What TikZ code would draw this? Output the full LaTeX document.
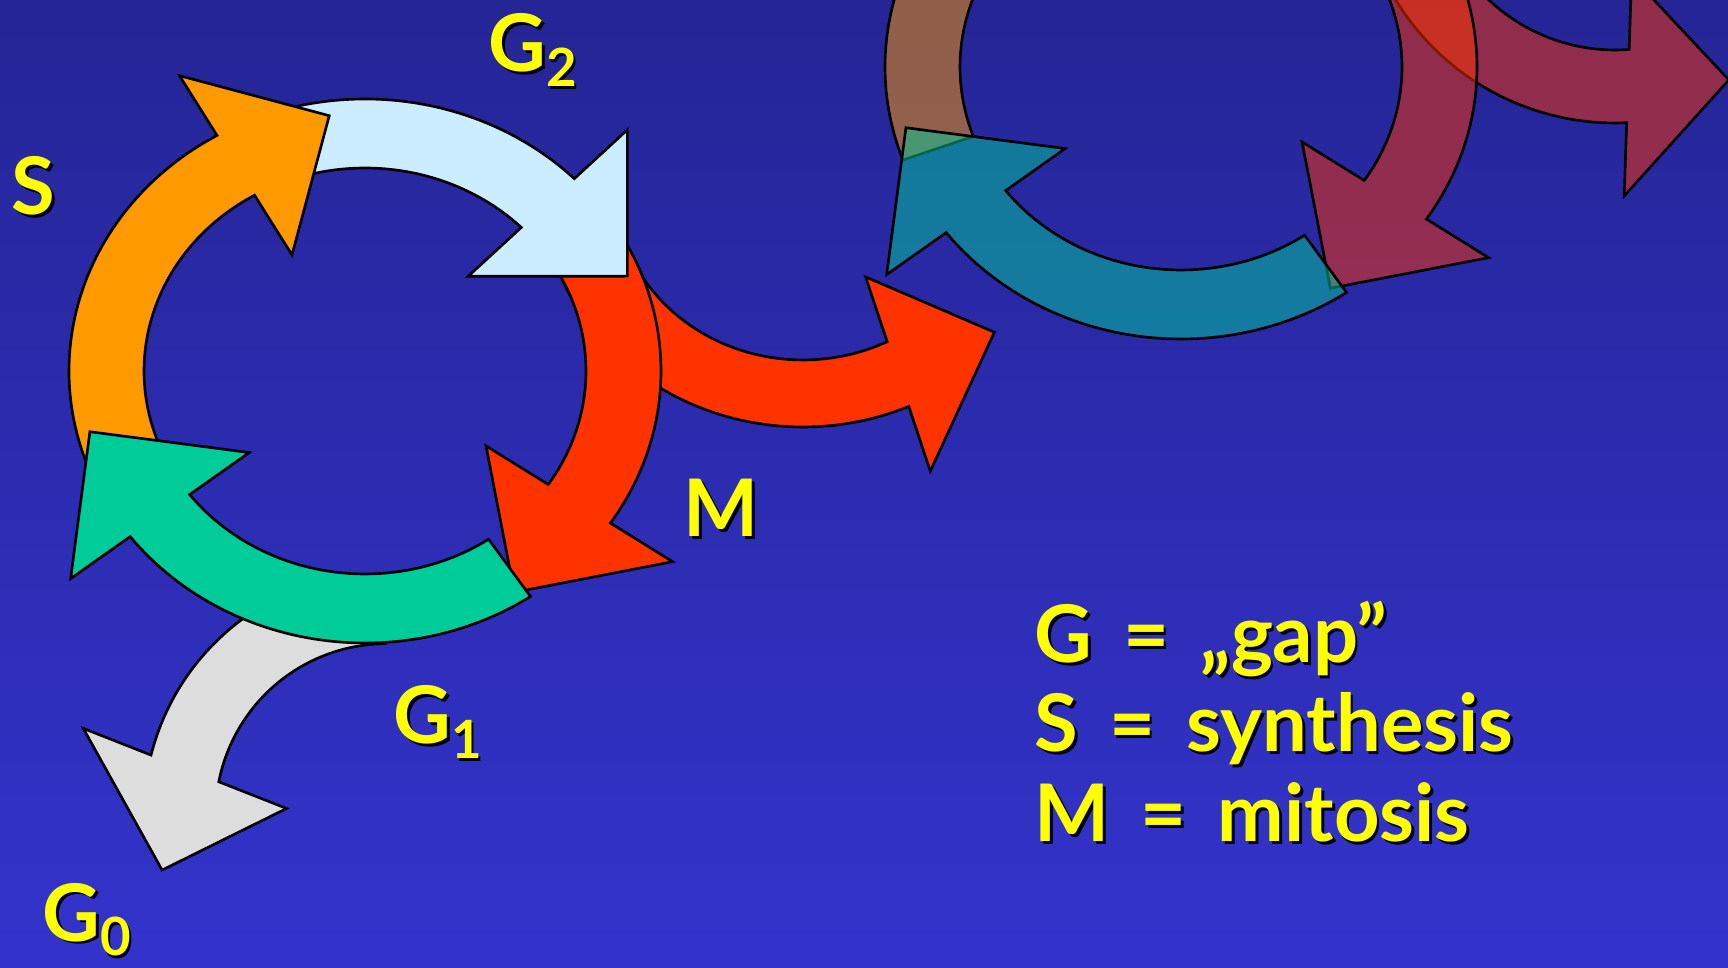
\documentclass[tikz,border=0pt]{standalone}
\usepackage{fontspec}
\newfontfamily\labfont{Lato}
\definecolor{bgtop}{RGB}{37,37,150}
\definecolor{bgbot}{RGB}{51,51,204}
\definecolor{cOrange}{RGB}{255,153,0}
\definecolor{cLightBlue}{RGB}{204,236,255}
\definecolor{cRed}{RGB}{255,51,0}
\definecolor{cGreen}{RGB}{0,204,153}
\definecolor{cGrey}{RGB}{221,221,221}
\definecolor{cYellow}{RGB}{255,255,0}
\pgfkeys{/aa/.is family}
\pgfkeys{/aa,
 c/.code args={#1,#2}{\def\aaCx{#1}\def\aaCy{#2}},
 ro/.code args={#1,#2}{\def\aaRxo{#1}\def\aaRyo{#2}},
 ri/.code args={#1,#2}{\def\aaRxi{#1}\def\aaRyi{#2}},
 from/.code={\def\aaSo{#1}\def\aaSi{#1}},
 to/.code={\def\aaEo{#1}\def\aaEi{#1}},
 ofrom/.code={\def\aaSo{#1}},
 ifrom/.code={\def\aaSi{#1}},
 oto/.code={\def\aaEo{#1}},
 ito/.code={\def\aaEi{#1}},
 head/.code={\def\aaHf{#1}}}
% curved band arrow between an outer and an inner ellipse, with a triangular head
\newcommand{\ArcArrow}[2]{%
 \begingroup
 \pgfkeys{/aa,head=1.5,#1}%
 \pgfmathsetmacro\aaSg{((\aaEo)>(\aaSo))?1:-1}%
 \pgfmathsetmacro\aaEm{((\aaEo)+(\aaEi))/2}%
 \pgfmathsetmacro\aaTx{-((\aaRxo)+(\aaRxi))/200*sin(\aaEm)}%
 \pgfmathsetmacro\aaTy{((\aaRyo)+(\aaRyi))/200*cos(\aaEm)}%
 \pgfmathsetmacro\aaTl{veclen(\aaTx,\aaTy)}%
 \pgfmathsetmacro\aaNox{(\aaCx)+(\aaRxo)*cos(\aaEo)}%
 \pgfmathsetmacro\aaNoy{(\aaCy)+(\aaRyo)*sin(\aaEo)}%
 \pgfmathsetmacro\aaNix{(\aaCx)+(\aaRxi)*cos(\aaEi)}%
 \pgfmathsetmacro\aaNiy{(\aaCy)+(\aaRyi)*sin(\aaEi)}%
 \pgfmathsetmacro\aaBw{100*veclen(((\aaNox)-(\aaNix))/100,((\aaNoy)-(\aaNiy))/100)}%
 \pgfmathsetmacro\aaHl{(\aaHf)*(\aaBw)}%
 \coordinate (bo) at ({2*(\aaNox)-(\aaNix)},{2*(\aaNoy)-(\aaNiy)});
 \coordinate (bi) at ({2*(\aaNix)-(\aaNox)},{2*(\aaNiy)-(\aaNoy)});
 \coordinate (tp) at ({((\aaNox)+(\aaNix))/2+(\aaSg)*(\aaHl)*(\aaTx)/(\aaTl)},{((\aaNoy)+(\aaNiy))/2+(\aaSg)*(\aaHl)*(\aaTy)/(\aaTl)});
 \draw[arr,#2] plot[domain=\aaSo:\aaEo,samples=60] ({(\aaCx)+(\aaRxo)*cos(\x)},{(\aaCy)+(\aaRyo)*sin(\x)})
   -- (bo) -- (tp) -- (bi)
   -- plot[domain=\aaEi:\aaSi,samples=60] ({(\aaCx)+(\aaRxi)*cos(\x)},{(\aaCy)+(\aaRyi)*sin(\x)}) -- cycle;
 \endgroup}
\newcommand{\ShText}[4]{%
 \node[lab,text=black] (#1sh) at ({#2+2.5},{#3+2.5}) {#4};
 \node[lab] (#1) at (#2,#3) {#4};
}
\newcommand{\Sub}[1]{\raisebox{-4.2pt}{\fontsize{15pt}{15pt}\selectfont #1}}
\newcommand{\Gp}{\hspace{0.31cm}}
\begin{document}
\begin{tikzpicture}[x=0.01cm,y=-0.01cm,
  arr/.style={draw=black,line width=0.75pt,line join=miter},
  lab/.style={anchor=base west,inner sep=0pt,text=cYellow,font=\labfont\bfseries\fontsize{22.6pt}{27pt}\selectfont}]
\useasboundingbox (0,0) rectangle (1728,968);
\clip (0,0) rectangle (1728,968);
\shade[top color=bgtop,bottom color=bgbot] (0,0) rectangle (1728,968);
% faded second cycle (upper right)
\begin{scope}[fill opacity=0.5]
 \ArcArrow{c={1615,-134},ro={257,257},ri={184,184},from=160,oto=87.4,ito=85.6,head=1.38}{fill=cRed}
 \ArcArrow{c={1181,67},ro={296,272},ri={221,203},from=-35,to=34}{fill=cRed}
 \ArcArrow{c={1181,67},ro={296,272},ri={221,203},from=255,to=315}{fill=cLightBlue}
 \ArcArrow{c={1181,67},ro={296,272},ri={221,203},from=160,to=240}{fill=cOrange}
 \ArcArrow{c={1181,67},ro={296,272},ri={221,203},from=56,to=142.5}{fill=cGreen}
\end{scope}
% G0 exit
\ArcArrow{c={386.6,814.7},ro={243,243},ri={171,171},ofrom=240,ifrom=268,oto=194.2,ito=191.1,head=1.43}{fill=cGrey}
% M exit
\ArcArrow{c={803,187},ro={261,240},ri={188,173},from=162,oto=66.1,ito=63.4,head=1.54}{fill=cRed}
% main cycle
\ArcArrow{c={365,371},ro={296,272},ri={221,203},from=-35,to=34}{fill=cRed}
\ArcArrow{c={365,371},ro={296,272},ri={221,203},from=255,to=315}{fill=cLightBlue}
\ArcArrow{c={365,371},ro={296,272},ri={221,203},from=160,to=240}{fill=cOrange}
\ArcArrow{c={365,371},ro={296,272},ri={221,203},from=56,to=142.5}{fill=cGreen}
% labels
\ShText{lG2}{488}{72}{G\Sub{2}}
\ShText{lS}{11}{215}{S}
\ShText{lM}{683}{537}{M}
\ShText{lG1}{393}{744}{G\Sub{1}}
\ShText{lG0}{42}{941}{G\Sub{0}}
\ShText{lgG}{1034}{663}{G\Gp=\Gp„gap”}
\ShText{lgS}{1034}{752}{S\Gp=\Gp synthesis}
\ShText{lgM}{1034}{842}{M\Gp=\Gp mitosis}
\end{tikzpicture}
\end{document}
